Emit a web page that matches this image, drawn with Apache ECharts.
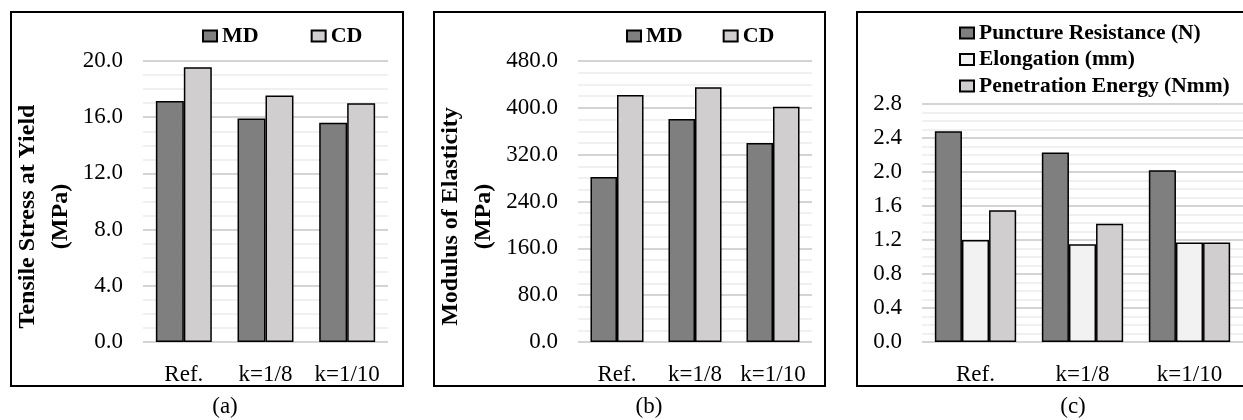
<!DOCTYPE html>
<html><head><meta charset="utf-8">
<script src="https://cdn.jsdelivr.net/npm/echarts@6/dist/echarts.min.js"></script>
<style>html,body{margin:0;padding:0;background:#fff}#c{width:1243px;height:420px}</style>
</head><body><div id="c"></div>
<script>
const categories = ['Ref.', 'k=1/8', 'k=1/10'];
const tensileMD = [17.15, 15.9, 15.6];
const tensileCD = [19.55, 17.55, 17.0];
const modulusMD = [282, 381, 340];
const modulusCD = [422, 435, 402];
const puncture = [2.48, 2.23, 2.02];
const elongation = [1.20, 1.15, 1.17];
const penetration = [1.55, 1.39, 1.17];
const tensileTicks = {min: 0, max: 20, interval: 4};
const modulusTicks = {min: 0, max: 480, interval: 80};
const punctureTicks = {min: 0, max: 2.8, interval: 0.4};

const FONT = '"Liberation Serif", "Times New Roman", serif';
const DARK = '#7f7f7f', LIGHT = '#d0cece', WHITE = '#f2f2f2';

function yAxis(idx, t, name, gap) {
  return {
    type: 'value', gridIndex: idx, min: t.min, max: t.max, interval: t.interval,
    axisLine: {show: false}, axisTick: {show: false},
    axisLabel: {fontFamily: FONT, fontSize: 23, color: '#000', margin: 20,
      formatter: v => v.toFixed(1)},
    splitLine: {show: true, lineStyle: {color: '#d4d4d4', width: 2}},
    minorTick: {show: false, splitNumber: 4},
    minorSplitLine: {show: true, lineStyle: {color: '#ececec', width: 1.5}},
    name: name, nameLocation: 'middle', nameRotate: 90, nameGap: gap,
    nameTextStyle: {fontFamily: FONT, fontSize: 24, fontWeight: 'bold', color: '#000',
      lineHeight: 33, padding: [0, 30, 0, 0]}
  };
}
function xAxis(idx) {
  return {
    type: 'category', gridIndex: idx, data: categories,
    axisLine: {show: false}, axisTick: {show: false},
    axisLabel: {fontFamily: FONT, fontSize: 23, color: '#000', margin: 21, interval: 0}
  };
}
function bar(name, data, idx, color, gapPct) {
  return {
    type: 'bar', name: name, data: data, xAxisIndex: idx, yAxisIndex: idx,
    barGap: '0%', barCategoryGap: gapPct,
    itemStyle: {color: color, borderColor: '#000', borderWidth: 1.5},
    emphasis: {disabled: true}, animation: false
  };
}
const legendText = {fontFamily: FONT, fontSize: 22, fontWeight: 'bold', color: '#000'};

const option = {
  animation: false,
  grid: [
    {left: 143, right: 1243 - 388, top: 61, bottom: 420 - 342},
    {left: 578, right: 1243 - 812, top: 61, bottom: 420 - 342},
    {left: 922, right: 0, top: 104, bottom: 420 - 342}
  ],
  xAxis: [xAxis(0), xAxis(1), xAxis(2)],
  yAxis: [
    yAxis(0, tensileTicks, 'Tensile Stress at Yield\n(MPa)', 66),
    yAxis(1, modulusTicks, 'Modulus of Elasticity\n(MPa)', 78),
    Object.assign(yAxis(2, punctureTicks, '', 0), {name: ''})
  ],
  legend: [
    {data: ['MD', 'CD'], left: 202, top: 25, padding: 0, itemWidth: 14, itemHeight: 11, itemGap: 52,
      icon: 'rect', textStyle: legendText, selectedMode: false},
    {data: ['MD', 'CD'], left: 626, top: 25, padding: 0, itemWidth: 14, itemHeight: 11, itemGap: 40,
      icon: 'rect', textStyle: legendText, selectedMode: false},
    {data: ['Puncture Resistance (N)', 'Elongation (mm)', 'Penetration Energy (Nmm)'],
      orient: 'vertical', left: 959, top: 22, padding: 0, itemWidth: 14, itemHeight: 11, itemGap: 4.5,
      icon: 'rect', textStyle: Object.assign({}, legendText, {fontSize: 21.5, lineHeight: 22}), selectedMode: false}
  ],
  series: [
    bar('MD', tensileMD, 0, DARK, '31.5%'),
    bar('CD', tensileCD, 0, LIGHT, '31.5%'),
    bar('MD', modulusMD, 1, DARK, '32%'),
    bar('CD', modulusCD, 1, LIGHT, '32%'),
    bar('Puncture Resistance (N)', puncture, 2, DARK, '24%'),
    bar('Elongation (mm)', elongation, 2, WHITE, '24%'),
    bar('Penetration Energy (Nmm)', penetration, 2, LIGHT, '24%')
  ],
  graphic: [
    {type: 'rect', shape: {x: 11, y: 12, width: 392, height: 374}, style: {fill: 'none', stroke: '#000', lineWidth: 2}, silent: true},
    {type: 'rect', shape: {x: 434, y: 12, width: 391, height: 374}, style: {fill: 'none', stroke: '#000', lineWidth: 2}, silent: true},
    {type: 'rect', shape: {x: 857, y: 12, width: 400, height: 374}, style: {fill: 'none', stroke: '#000', lineWidth: 2}, silent: true},
    {type: 'text', x: 225, y: 407, style: {text: '(a)', font: '23px ' + FONT, fill: '#000', textAlign: 'center', textVerticalAlign: 'middle'}, silent: true},
    {type: 'text', x: 649, y: 407, style: {text: '(b)', font: '23px ' + FONT, fill: '#000', textAlign: 'center', textVerticalAlign: 'middle'}, silent: true},
    {type: 'text', x: 1073, y: 407, style: {text: '(c)', font: '23px ' + FONT, fill: '#000', textAlign: 'center', textVerticalAlign: 'middle'}, silent: true}
  ]
};
const chart = echarts.init(document.getElementById('c'), null, {renderer: 'canvas'});
chart.setOption(option);
</script></body></html>
